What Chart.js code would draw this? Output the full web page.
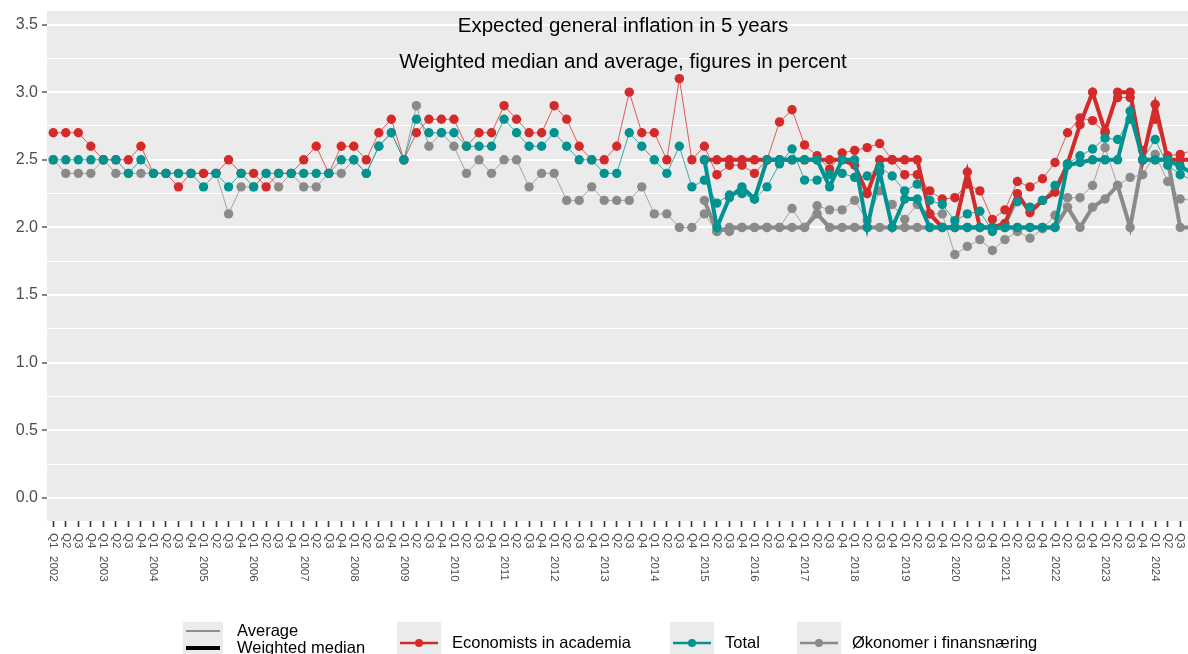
<!DOCTYPE html>
<html>
<head>
<meta charset="utf-8">
<script src="https://cdn.jsdelivr.net/npm/chart.js@4"></script>
<style>
html, body { margin: 0; padding: 0; background: #fff; overflow: hidden; }
#wrap { width: 1206px; height: 654px; position: relative; }
</style>
</head>
<body>
<div id="wrap"><canvas id="chart"></canvas></div>
<script>
// categories
const years = [2002, 2003, 2004, 2005, 2006, 2007, 2008, 2009, 2010, 2011, 2012, 2013,
  2014, 2015, 2016, 2017, 2018, 2019, 2020, 2021, 2022, 2023, 2024];
const quarterNames = ["Q1", "Q2", "Q3", "Q4"];
const labels = years.flatMap(y => quarterNames.map(q => q + " " + y));
const medianStart = "Q1 2015";

// averages, Q1 2002 - Q4 2024
const avgAcademia = [
  2.7, 2.7, 2.7, 2.6, 2.5, 2.5, 2.5, 2.6, 2.4, 2.4,
  2.3, 2.4, 2.4, 2.4, 2.5, 2.4, 2.4, 2.3, 2.4, 2.4,
  2.5, 2.6, 2.4, 2.6, 2.6, 2.5, 2.7, 2.8, 2.5, 2.7,
  2.8, 2.8, 2.8, 2.6, 2.7, 2.7, 2.9, 2.8, 2.7, 2.7,
  2.9, 2.8, 2.6, 2.5, 2.5, 2.6, 3.0, 2.7, 2.7, 2.5,
  3.1, 2.5,
  2.60, 2.39, 2.46, 2.46, 2.40, 2.50, 2.78, 2.87, 2.61, 2.53, 2.43, 2.55,
  2.57, 2.59, 2.62, 2.50, 2.39, 2.39, 2.27, 2.21, 2.22, 2.32, 2.27, 2.06,
  2.13, 2.34, 2.30, 2.36, 2.48, 2.70, 2.81, 2.79, 2.70, 2.96, 2.96, 2.57,
  2.80, 2.53, 2.54, 2.57
];
const avgTotal = [
  2.5, 2.5, 2.5, 2.5, 2.5, 2.5, 2.4, 2.5, 2.4, 2.4,
  2.4, 2.4, 2.3, 2.4, 2.3, 2.4, 2.3, 2.4, 2.4, 2.4,
  2.4, 2.4, 2.4, 2.5, 2.5, 2.4, 2.6, 2.7, 2.5, 2.8,
  2.7, 2.7, 2.7, 2.6, 2.6, 2.6, 2.8, 2.7, 2.6, 2.6,
  2.7, 2.6, 2.5, 2.5, 2.4, 2.4, 2.7, 2.6, 2.5, 2.4,
  2.6, 2.3,
  2.35, 2.18, 2.24, 2.25, 2.21, 2.30, 2.47, 2.58, 2.35, 2.35, 2.39, 2.40,
  2.37, 2.38, 2.45, 2.38, 2.27, 2.32, 2.20, 2.17, 2.05, 2.10, 2.12, 1.97,
  2.00, 2.19, 2.15, 2.20, 2.31, 2.47, 2.53, 2.58, 2.66, 2.65, 2.80, 2.50,
  2.65, 2.46, 2.39, 2.35
];
const avgFinance = [
  2.5, 2.4, 2.4, 2.4, 2.5, 2.4, 2.4, 2.4, 2.4, 2.4,
  2.4, 2.4, 2.4, 2.4, 2.1, 2.3, 2.3, 2.4, 2.3, 2.4,
  2.3, 2.3, 2.4, 2.4, 2.5, 2.4, 2.6, 2.7, 2.5, 2.9,
  2.6, 2.7, 2.6, 2.4, 2.5, 2.4, 2.5, 2.5, 2.3, 2.4,
  2.4, 2.2, 2.2, 2.3, 2.2, 2.2, 2.2, 2.3, 2.1, 2.1,
  2.0, 2.0,
  2.10, 1.97, 1.97, 2.00, 2.00, 2.00, 2.00, 2.14, 2.00, 2.16, 2.13, 2.13,
  2.20, 2.05, 2.27, 2.17, 2.06, 2.17, 2.10, 2.10, 1.80, 1.86, 1.91, 1.83,
  1.91, 1.97, 1.92, 1.99, 2.09, 2.22, 2.22, 2.31, 2.59, 2.31, 2.37, 2.39,
  2.54, 2.34, 2.21, 2.20
];

// weighted medians, Q1 2015 - Q4 2024
const medAcademia = [
  2.5, 2.5, 2.5, 2.5, 2.5, 2.5, 2.5, 2.5, 2.5, 2.5, 2.5, 2.5,
  2.46, 2.25, 2.5, 2.5, 2.5, 2.5, 2.10, 2.0, 2.0, 2.41, 2.0, 2.0,
  2.03, 2.25, 2.11, 2.20, 2.26, 2.47, 2.76, 3.0, 2.71, 3.0, 3.0, 2.5,
  2.91, 2.5, 2.5, 2.5
];
const medTotal = [
  2.5, 2.0, 2.22, 2.30, 2.21, 2.5, 2.5, 2.5, 2.5, 2.5, 2.30, 2.5,
  2.5, 2.0, 2.41, 2.0, 2.21, 2.21, 2.0, 2.0, 2.0, 2.0, 2.0, 2.0,
  2.0, 2.0, 2.0, 2.0, 2.0, 2.46, 2.48, 2.5, 2.5, 2.5, 2.86, 2.5,
  2.5, 2.5, 2.45, 2.40
];
const medFinance = [
  2.2, 1.97, 2.0, 2.0, 2.0, 2.0, 2.0, 2.0, 2.0, 2.1, 2.0, 2.0,
  2.0, 2.0, 2.0, 2.0, 2.0, 2.0, 2.0, 2.0, 2.0, 2.0, 2.0, 2.0,
  2.0, 2.0, 2.0, 2.0, 2.0, 2.15, 2.0, 2.15, 2.21, 2.31, 2.0, 2.5,
  2.5, 2.5, 2.0, 2.0
];

// y axis ticks
const yTicks = [0, 0.25, 0.5, 0.75, 1, 1.25, 1.5, 1.75, 2, 2.25, 2.5, 2.75, 3, 3.25, 3.5];

const groupNames = ["Economists in academia", "Total", "Økonomer i finansnæring"];
const groupColors = ["#D52A2A", "#009390", "#8A8A8A"];
const lineTypeNames = ["Average", "Weighted median"];
const titleText = "Expected general inflation in 5 years";
const subtitleText = "Weighted median and average, figures in percent";

const FONT = '"Liberation Sans", Arial, sans-serif';

function fade(hex, a){
  let r = parseInt(hex.slice(1,3),16), g = parseInt(hex.slice(3,5),16), b = parseInt(hex.slice(5,7),16);
  return "rgba(" + r + "," + g + "," + b + "," + a + ")";
}

function medianPoints(arr){
  let start = labels.indexOf(medianStart);
  return arr.map((v, k) => ({x: labels[start + k], y: v}));
}

function avgSet(data, c, order){
  return {
    data: data, borderColor: fade(c, 0.75), backgroundColor: c,
    borderWidth: 1, pointRadius: 4.7, pointBorderWidth: 0,
    pointBackgroundColor: c, tension: 0, order: order
  };
}
function medSet(data, c, order){
  return {
    data: medianPoints(data), borderColor: c, backgroundColor: c,
    borderWidth: 4, pointRadius: 4.7, pointBorderWidth: 0,
    pointBackgroundColor: c, tension: 0, order: order
  };
}

const panelBg = {
  id: "panelBg",
  beforeDraw(chart){
    let a = chart.chartArea, ctx = chart.ctx;
    ctx.save();
    ctx.fillStyle = "#EBEBEB";
    ctx.fillRect(a.left, a.top, a.right - a.left, a.bottom - a.top);
    ctx.restore();
  }
};

const extras = {
  id: "extras",
  afterDraw(chart){
    let ctx = chart.ctx, a = chart.chartArea, xs = chart.scales.x;
    ctx.save();
    // titles
    let cx = (a.left + a.right) / 2;
    ctx.fillStyle = "#000";
    ctx.textAlign = "center";
    ctx.textBaseline = "middle";
    ctx.font = "20.5px " + FONT;
    ctx.fillText(titleText, cx, 26);
    ctx.fillText(subtitleText, cx, 62);

    // x labels, rotated clockwise
    ctx.fillStyle = "#4D4D4D";
    ctx.font = "11.5px " + FONT;
    labels.forEach((lab, i) => {
      let parts = lab.split(" ");
      let x = xs.getPixelForValue(i);
      ctx.save();
      ctx.translate(x, a.bottom + 12);
      ctx.rotate(Math.PI / 2);
      ctx.textAlign = "left";
      ctx.textBaseline = "middle";
      ctx.fillText(parts[0], 0, 0);
      if(parts[0] === "Q1") ctx.fillText(parts[1], 23, 0);
      ctx.restore();
    });

    // legend
    ctx.font = "16.5px " + FONT;
    ctx.textAlign = "left";
    ctx.textBaseline = "middle";
    ctx.fillStyle = "#EBEBEB";
    ctx.fillRect(183, 622, 40, 40);
    ctx.strokeStyle = "#000";
    ctx.lineWidth = 0.8;
    ctx.beginPath(); ctx.moveTo(186, 631); ctx.lineTo(220, 631); ctx.stroke();
    ctx.lineWidth = 4;
    ctx.beginPath(); ctx.moveTo(186, 648); ctx.lineTo(220, 648); ctx.stroke();
    ctx.fillStyle = "#000";
    ctx.fillText(lineTypeNames[0], 237, 631);
    ctx.fillText(lineTypeNames[1], 237, 648);

    let boxX = [397, 670, 797];
    groupNames.forEach((name, k) => {
      let bx = boxX[k];
      ctx.fillStyle = "#EBEBEB";
      ctx.fillRect(bx, 622, 44, 40);
      ctx.strokeStyle = groupColors[k];
      ctx.lineWidth = 2.5;
      ctx.beginPath(); ctx.moveTo(bx + 3, 643); ctx.lineTo(bx + 41, 643); ctx.stroke();
      ctx.fillStyle = groupColors[k];
      ctx.beginPath(); ctx.arc(bx + 22, 643, 4, 0, Math.PI * 2); ctx.fill();
      ctx.fillStyle = "#000";
      ctx.fillText(name, bx + 55, 643);
    });
    ctx.restore();
  }
};

function isMajor(v){ return Math.abs(v * 2 - Math.round(v * 2)) < 1e-6; }

new Chart(document.getElementById("chart"), {
  type: "line",
  data: {
    labels: labels,
    datasets: [
      medSet(medTotal, groupColors[1], 0),
      avgSet(avgTotal, groupColors[1], 1),
      medSet(medAcademia, groupColors[0], 2),
      avgSet(avgAcademia, groupColors[0], 3),
      medSet(medFinance, groupColors[2], 4),
      avgSet(avgFinance, groupColors[2], 5)
    ]
  },
  options: {
    responsive: true,
    maintainAspectRatio: false,
    animation: false,
    devicePixelRatio: 1,
    layout: { padding: { top: 11, right: 7, left: 0, bottom: 0 } },
    plugins: { legend: { display: false }, tooltip: { enabled: false }, title: { display: false } },
    scales: {
      x: {
        type: "category",
        offset: true,
        border: { display: false },
        grid: { offset: false, drawOnChartArea: false, drawTicks: true, tickLength: 6, tickColor: "#333333", tickWidth: 1.6 },
        ticks: { display: false },
        afterFit(s){ s.height = 133; s.paddingLeft = 0; s.paddingRight = 0; }
      },
      y: {
        min: -0.17,
        max: 3.6,
        border: { display: false },
        afterBuildTicks(s){ s.ticks = yTicks.map(v => ({value: v})); },
        afterFit(s){ s.width = 47; s.paddingTop = 0; s.paddingBottom = 0; },
        grid: {
          color: "#FFFFFF",
          lineWidth: c => isMajor(c.tick.value) ? 2 : 1,
          tickColor: c => isMajor(c.tick.value) ? "#333333" : "rgba(0,0,0,0)",
          tickLength: 5,
          tickWidth: 1.2
        },
        ticks: {
          padding: 4,
          color: "#4D4D4D",
          font: { family: FONT, size: 16 },
          callback: v => isMajor(v) ? v.toFixed(1) : ""
        }
      }
    }
  },
  plugins: [panelBg, extras]
});
</script>
</body>
</html>
